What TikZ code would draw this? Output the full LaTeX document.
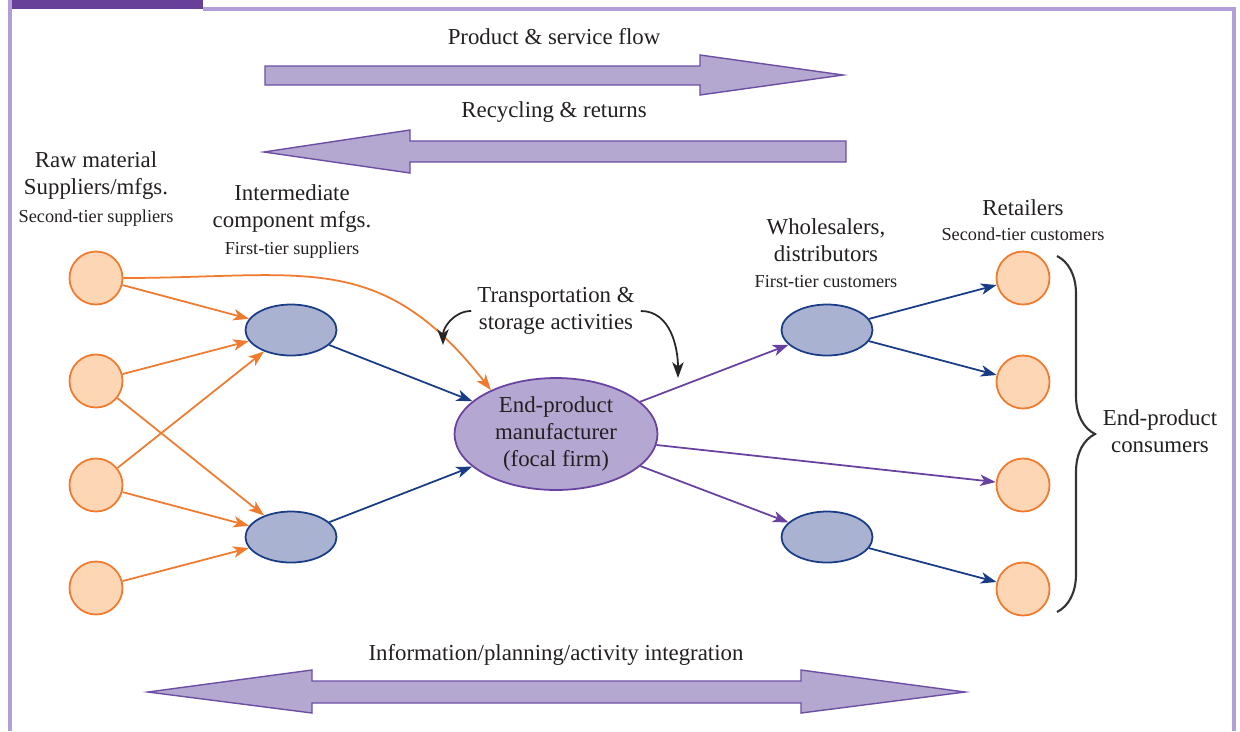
\documentclass[tikz,border=0pt]{standalone}
\usepackage{fontspec}
\setmainfont{Liberation Serif}
\usetikzlibrary{arrows.meta,shapes.geometric,decorations.pathreplacing}

\definecolor{framepurple}{RGB}{178,158,216}
\definecolor{barpurple}{RGB}{104,64,154}
\definecolor{bigfill}{RGB}{180,168,208}
\definecolor{bigdraw}{RGB}{108,78,165}
\definecolor{supline}{RGB}{240,122,45}
\definecolor{supfill}{RGB}{253,214,182}
\definecolor{midfill}{RGB}{170,178,210}
\definecolor{midline}{RGB}{25,60,135}
\definecolor{focfill}{RGB}{180,168,210}
\definecolor{focline}{RGB}{105,65,160}
\definecolor{txt}{RGB}{35,31,32}

\begin{document}
\begin{tikzpicture}[x=0.02cm, y=0.02cm,
        lbl/.style={text=txt, align=center, font=\fontsize{13}{15.4}\selectfont},
        sublbl/.style={text=txt, font=\fontsize{10.4}{12}\selectfont},
        tip/.style={-{Stealth[length=9pt, width=6.5pt, inset=2.5pt]}},
        supedge/.style={draw=supline, line width=1pt, tip},
        midedge/.style={draw=midline, line width=1pt, tip},
        focedge/.style={draw=focline, line width=1pt, tip}]
        \useasboundingbox (0,-731) rectangle (1240,0);
        % frame
        \fill[barpurple] (10,0) rectangle (203,-9);
        \draw[framepurple, line width=2pt] (10,0) -- (10,-731);
        \draw[framepurple, line width=2pt] (203,-9) -- (1234,-9) -- (1234,-731);

        % flow arrows
        \begin{scope}[fill=bigfill, draw=bigdraw, line width=0.8pt, line join=miter]
                \filldraw (265,-66) -- (700,-66) -- (700,-55) -- (843,-75) -- (700,-95) -- (700,-85) -- (265,-85) -- cycle;
                \filldraw (846,-141) -- (410,-141) -- (410,-130) -- (264,-152) -- (410,-173) -- (410,-162) -- (846,-162) -- cycle;
                \filldraw (148,-692) -- (312,-670) -- (312,-681) -- (801,-681) -- (801,-670) -- (965,-692)
                        -- (801,-713) -- (801,-703) -- (312,-703) -- (312,-713) -- cycle;
        \end{scope}
        \node[lbl] (flowlbl) at (554,-37) {Product \& service flow};
        \node[lbl] (returnlbl) at (554,-112) {Recycling \& returns};
        \node[lbl] (infolbl) at (556,-655) {Information/planning/activity integration};

        % suppliers and customers
        \begin{scope}[every node/.style={circle, draw=supline, fill=supfill, line width=1pt, minimum size=1.06cm, inner sep=0}]
                \node (r1) at (96,-278) {};
                \node (r2) at (96,-381) {};
                \node (r3) at (96,-485) {};
                \node (r4) at (96,-588) {};
                \node (c1) at (1023,-278) {};
                \node (c2) at (1023,-382) {};
                \node (c3) at (1023,-485) {};
                \node (c4) at (1023,-589) {};
        \end{scope}
        \begin{scope}[every node/.style={ellipse, draw=midline, fill=midfill, line width=1pt, minimum width=1.82cm, minimum height=1.02cm, inner sep=0}]
                \node (i1) at (291,-330) {};
                \node (i2) at (291,-537) {};
                \node (w1) at (827,-330) {};
                \node (w2) at (827,-537) {};
        \end{scope}
        \node[ellipse, draw=focline, fill=focfill, line width=1pt, minimum width=4.06cm, minimum height=2.24cm, inner sep=0, lbl]
                (fp) at (556,-434) {End-product\\manufacturer\\(focal firm)};

        % labels
        \node[lbl] (rawlbl) at (96,-176) {Raw material\\Suppliers/mfgs.};
        \node[sublbl] (rawsub) at (96,-218) {Second-tier suppliers};
        \node[lbl] (intlbl) at (292,-209) {Intermediate\\component mfgs.};
        \node[sublbl] (intsub) at (292,-250) {First-tier suppliers};
        \node[lbl] (whlbl) at (826,-240) {Wholesalers,\\distributors};
        \node[sublbl] (whsub) at (826,-282) {First-tier customers};
        \node[lbl] (retlbl) at (1023,-208) {Retailers};
        \node[sublbl] (retsub) at (1023,-234) {Second-tier customers};
        \node[lbl] (trlbl) at (556,-311) {Transportation \&\\storage activities};
        \node[lbl] (conslbl) at (1160,-431) {End-product\\consumers};

        % connectors
        \path (r1) edge [supedge] (i1);
        \path (r1) edge [supedge, out=0, in=128, looseness=1.2] (fp.146);
        \path (r2) edge [supedge] (i1);
        \path (r2) edge [supedge] (i2);
        \path (r3) edge [supedge] (i1);
        \path (r3) edge [supedge] (i2);
        \path (r4) edge [supedge] (i2);
        \path (i1) edge [midedge] (fp);
        \path (i2) edge [midedge] (fp);
        \path (fp) edge [focedge] (w1);
        \path (fp) edge [focedge] (c3);
        \path (fp) edge [focedge] (w2);
        \path (w1) edge [midedge] (c1);
        \path (w1) edge [midedge] (c2);
        \path (w2) edge [midedge] (c4);
        \coordinate (trleft) at (443,-345);
        \coordinate (trright) at (678,-378);
        \draw[black!85, line width=1pt, tip] (trlbl.west) to[out=180, in=90] (trleft);
        \draw[black!85, line width=1pt, tip] (trlbl.east) to[out=0, in=90] (trright);

        % consumers brace
        \draw[black!80, line width=1.2pt, decorate, decoration={brace, amplitude=0.76cm}] (1057,-256) -- (1057,-612);
\end{tikzpicture}
\end{document}
